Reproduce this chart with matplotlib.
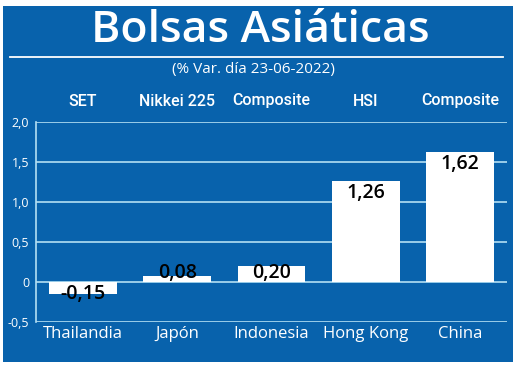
import matplotlib
matplotlib.use('Agg')
import matplotlib.pyplot as plt
from matplotlib.patches import Rectangle
import matplotlib.transforms as mtransforms

# Data
countries = ['Thailandia', 'Japón', 'Indonesia', 'Hong Kong', 'China']
indices = ['SET', 'Nikkei 225', 'Composite', 'HSI', 'Composite']
values = [-0.15, 0.08, 0.20, 1.26, 1.62]
value_labels = ['-0,15', '0,08', '0,20', '1,26', '1,62']
yticks = [-0.5, 0, 0.5, 1.0, 1.5, 2.0]
ytick_labels = ['-0,5', '0', '0,5', '1,0', '1,5', '2,0']

blue = '#0862ac'
grid_col = '#b3dff4'

fig = plt.figure(figsize=(5.2, 3.68), dpi=100, facecolor='white')
fig.patches.append(Rectangle((3 / 520, 1 - 362 / 368), 510 / 520, 356 / 368,
                             transform=fig.transFigure, facecolor=blue,
                             edgecolor='none', zorder=-10))

ax = fig.add_axes([36 / 520, 1 - 322 / 368, 471 / 520, 200 / 368])
ax.set_zorder(5)
ax.set_facecolor('none')
x = list(range(len(countries)))
ax.bar(x, values, width=0.72, color='white', zorder=3)
ax.set_xlim(-0.5, 4.5)
ax.set_ylim(-0.5, 2.0)

for t in yticks:
    ax.axhline(t, color=grid_col, lw=1.2, zorder=2)
for s in ['top', 'right', 'bottom']:
    ax.spines[s].set_visible(False)
ax.spines['left'].set_color(grid_col)
ax.spines['left'].set_linewidth(1.2)
ax.set_yticks(yticks)
ax.set_yticklabels(ytick_labels, color='white', fontsize=9, family='Open Sans')
ax.tick_params(axis='y', length=0, pad=5)
ax.set_xticks(x)
ax.set_xticklabels(countries, color='white', fontsize=12, family='Open Sans')
ax.tick_params(axis='x', length=0, pad=3)

for xi, v, lab in zip(x, values, value_labels):
    if v > 0.5:
        ly = v - 0.15
    elif v > 0:
        ly = 0.11
    else:
        ly = v
    ax.text(xi, ly, lab, ha='center', va='center', fontsize=14,
            family='Open Sans', weight='semibold', color='black', zorder=4)

# index names above the plot
trans = mtransforms.blended_transform_factory(ax.transData, fig.transFigure)
for xi, name in zip(x, indices):
    ax.text(xi, 1 - 101 / 368, name, transform=trans, ha='center', va='center',
            fontsize=11.5, color='white', family='Roboto', weight='medium',
            clip_on=False)

fig.text(0.5, 1 - 31 / 368, 'Bolsas Asiáticas', ha='center', va='center',
         fontsize=32, color='white', family='Open Sans', weight='semibold')
fig.add_artist(plt.Line2D([10 / 520, 503 / 520], [1 - 57 / 368, 1 - 57 / 368],
                          transform=fig.transFigure, color='white', lw=1.3))
fig.text(253 / 520, 1 - 70 / 368, '(% Var. día 23-06-2022)', ha='center',
         va='center', fontsize=11, color='white', family='Open Sans')

fig.savefig('out.png', dpi=100, facecolor='white')
